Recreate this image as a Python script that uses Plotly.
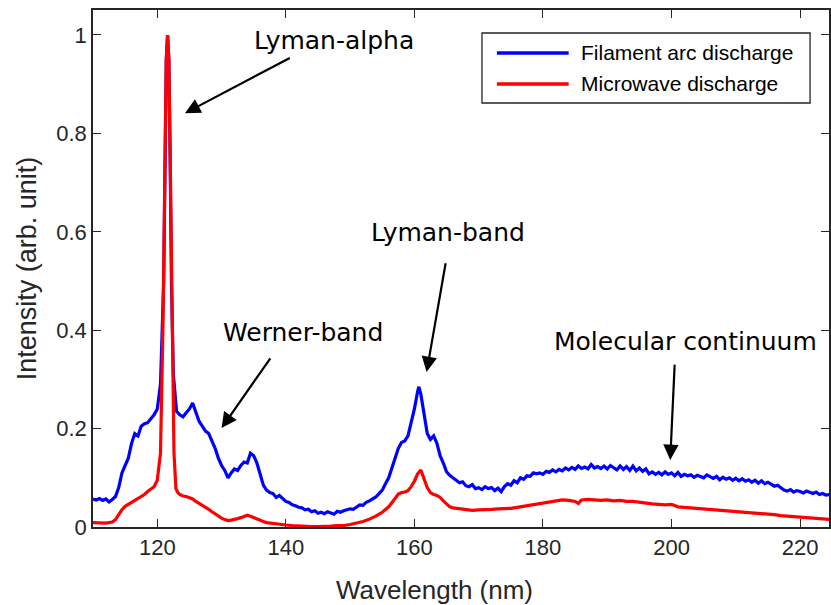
import plotly.graph_objects as go

# ---------------- data ----------------
wl_blue = [110, 110.5, 111, 111.5, 112, 112.5, 113, 113.5, 114, 114.5, 115, 115.5, 116, 116.5, 117, 117.5,
           118, 118.5, 119, 119.5, 120, 120.5, 121, 121.2, 121.4, 121.6, 121.8, 122.0, 122.2, 122.5, 123, 123.5, 124, 124.5,
           125, 125.5, 126, 126.5, 127, 127.5, 128, 128.5, 129, 129.5, 130, 130.5, 131, 131.5, 132, 132.5,
           133, 133.5, 134, 134.5, 135, 135.5, 136, 136.5, 137, 137.5, 138, 138.5, 139, 139.5, 140, 140.5,
           141, 141.5, 142, 142.5, 143, 143.5, 144, 144.5, 145, 145.5, 146, 146.5, 147, 147.5, 148, 148.5,
           149, 149.5, 150, 150.5, 151, 151.5, 152, 152.5, 153, 153.5, 154, 154.5, 155, 155.5, 156, 156.5,
           157, 157.5, 158, 158.5, 159, 159.5, 160, 160.5, 160.7, 161, 161.5, 162, 162.5, 163, 163.5, 164,
           164.5, 165, 165.5, 166, 166.5, 167, 167.5, 168, 168.5, 169, 169.5, 170, 170.5, 171, 171.5, 172,
           172.5, 173, 173.5, 174, 174.5, 175, 175.5, 176, 176.5, 177, 177.5, 178, 178.5, 179, 179.5, 180,
           180.5, 181, 181.5, 182, 182.5, 183, 183.5, 184, 184.5, 185, 185.5, 186, 186.5, 187, 187.5, 188,
           188.5, 189, 189.5, 190, 190.5, 191, 191.5, 192, 192.5, 193, 193.5, 194, 194.5, 195, 195.5, 196,
           196.5, 197, 197.5, 198, 198.5, 199, 199.5, 200, 200.5, 201, 201.5, 202, 202.5, 203, 203.5, 204,
           204.5, 205, 205.5, 206, 206.5, 207, 207.5, 208, 208.5, 209, 209.5, 210, 210.5, 211, 211.5, 212,
           212.5, 213, 213.5, 214, 214.5, 215, 215.5, 216, 216.5, 217, 217.5, 218, 218.5, 219, 219.5, 220,
           220.5, 221, 221.5, 222, 222.5, 223, 223.5, 224, 224.5, 225]
filament = [0.057, 0.055, 0.058, 0.054, 0.057, 0.051, 0.056, 0.062, 0.080, 0.110, 0.125, 0.140, 0.170, 0.190, 0.185, 0.205,
            0.210, 0.212, 0.220, 0.228, 0.240, 0.290, 0.500, 0.750, 0.950, 1.000, 0.950, 0.750, 0.500, 0.310, 0.235, 0.228, 0.224, 0.232,
            0.240, 0.252, 0.235, 0.215, 0.205, 0.195, 0.190, 0.175, 0.160, 0.140, 0.125, 0.115, 0.100, 0.110, 0.118, 0.115,
            0.125, 0.132, 0.130, 0.150, 0.145, 0.130, 0.110, 0.085, 0.075, 0.070, 0.068, 0.060, 0.064, 0.057, 0.052, 0.050,
            0.045, 0.043, 0.040, 0.039, 0.035, 0.036, 0.031, 0.033, 0.028, 0.030, 0.027, 0.031, 0.029, 0.026, 0.032, 0.030,
            0.033, 0.035, 0.037, 0.036, 0.041, 0.045, 0.044, 0.050, 0.053, 0.057, 0.061, 0.068, 0.075, 0.088, 0.100, 0.120,
            0.140, 0.160, 0.172, 0.175, 0.185, 0.210, 0.240, 0.275, 0.285, 0.270, 0.230, 0.190, 0.178, 0.185, 0.170, 0.145,
            0.130, 0.112, 0.105, 0.100, 0.096, 0.090, 0.092, 0.084, 0.082, 0.086, 0.078, 0.080, 0.076, 0.082, 0.078, 0.080,
            0.074, 0.079, 0.072, 0.082, 0.088, 0.085, 0.094, 0.090, 0.100, 0.097, 0.104, 0.103, 0.110, 0.108, 0.110, 0.107,
            0.113, 0.111, 0.116, 0.112, 0.117, 0.114, 0.120, 0.116, 0.121, 0.117, 0.124, 0.119, 0.122, 0.118, 0.127, 0.120,
            0.123, 0.119, 0.124, 0.118, 0.125, 0.120, 0.116, 0.124, 0.117, 0.123, 0.115, 0.124, 0.114, 0.120, 0.113, 0.118,
            0.108, 0.112, 0.107, 0.111, 0.106, 0.112, 0.107, 0.110, 0.104, 0.111, 0.103, 0.107, 0.104, 0.106, 0.101, 0.105,
            0.102, 0.100, 0.106, 0.102, 0.099, 0.103, 0.096, 0.101, 0.097, 0.100, 0.095, 0.099, 0.094, 0.098, 0.093, 0.096,
            0.091, 0.095, 0.089, 0.094, 0.088, 0.091, 0.087, 0.083, 0.085, 0.079, 0.075, 0.073, 0.076, 0.071, 0.074, 0.072,
            0.069, 0.073, 0.070, 0.068, 0.071, 0.066, 0.068, 0.065, 0.066, 0.064]

wl_red = [110, 111, 112, 113, 113.5, 114, 114.5, 115, 115.5, 116, 116.5, 117, 117.5, 118, 118.5, 119, 119.5, 120,
          120.5, 120.9, 121.2, 121.4, 121.6, 121.8, 122.0, 122.3, 122.6, 122.9, 123.2, 123.5, 124, 124.5, 125, 125.5, 126, 126.5,
          127, 127.5, 128, 128.5, 129, 129.5, 130, 130.5, 131, 131.5, 132, 132.5, 133, 133.5, 134, 134.5, 135,
          135.5, 136, 136.5, 137, 138, 139, 140, 141, 142, 143, 144, 145, 146, 147, 148, 149, 150, 151, 152, 153,
          154, 155, 156, 157, 157.5, 158, 158.5, 159, 159.5, 160, 160.5, 161, 161.5, 162, 162.5, 163, 163.5, 164,
          164.5, 165, 165.5, 166, 167, 168, 169, 170, 171, 172, 173, 174, 175, 176, 177, 178, 179, 180, 181, 182,
          183, 184, 185, 185.5, 186, 187, 188, 189, 190, 191, 192, 193, 194, 195, 196, 197, 198, 199, 200, 200.5,
          201, 202, 203, 204, 205, 206, 207, 208, 209, 210, 211, 212, 213, 214, 215, 216, 217, 218, 219, 220, 221,
          222, 223, 224, 225]
microwave = [0.009, 0.009, 0.008, 0.010, 0.015, 0.025, 0.035, 0.042, 0.046, 0.050, 0.054, 0.058, 0.062, 0.066, 0.072, 0.077, 0.082, 0.095,
             0.150, 0.420, 0.760, 0.950, 1.000, 0.950, 0.760, 0.420, 0.150, 0.078, 0.070, 0.066, 0.063, 0.062, 0.060, 0.057, 0.052, 0.048,
             0.045, 0.040, 0.036, 0.031, 0.026, 0.021, 0.018, 0.015, 0.013, 0.014, 0.015, 0.017, 0.019, 0.021, 0.024, 0.022, 0.019,
             0.016, 0.013, 0.011, 0.009, 0.007, 0.006, 0.004, 0.003, 0.002, 0.001, 0.001, 0.001, 0.001, 0.002, 0.003, 0.003, 0.005, 0.008, 0.011, 0.016,
             0.022, 0.030, 0.041, 0.058, 0.067, 0.070, 0.071, 0.074, 0.082, 0.093, 0.108, 0.116, 0.098, 0.080, 0.070, 0.066, 0.064, 0.060,
             0.053, 0.046, 0.041, 0.039, 0.037, 0.035, 0.034, 0.035, 0.035, 0.036, 0.037, 0.037, 0.038, 0.040, 0.042, 0.044, 0.046, 0.048, 0.051, 0.053,
             0.055, 0.054, 0.052, 0.048, 0.055, 0.056, 0.055, 0.054, 0.055, 0.053, 0.054, 0.052, 0.052, 0.050, 0.048, 0.047, 0.046, 0.045, 0.046, 0.043,
             0.041, 0.040, 0.039, 0.038, 0.037, 0.036, 0.035, 0.034, 0.033, 0.032, 0.031, 0.030, 0.029, 0.027, 0.026, 0.025, 0.023, 0.022, 0.021, 0.020, 0.018,
             0.017, 0.016, 0.016, 0.015]

series_names = ["Filament arc discharge", "Microwave discharge"]
x_ticks = [120, 140, 160, 180, 200, 220]
y_ticks = [0, 0.2, 0.4, 0.6, 0.8, 1]
y_tick_labels = ["0", "0.2", "0.4", "0.6", "0.8", "1"]
x_title = "Wavelength (nm)"
y_title = "Intensity (arb. unit)"

# annotations: label, text position (nm, intensity), arrow tail, arrow head
labels = ["Lyman-alpha", "Werner-band", "Lyman-band", "Molecular continuum"]
label_x = [147.5, 142.6, 165.3, 202.1]
label_y = [0.988, 0.396, 0.598, 0.378]
tail_x = [140.85, 137.75, 164.9, 200.5]
tail_y = [0.955, 0.346, 0.539, 0.333]
head_x = [124.3, 130.0, 161.9, 199.8]
head_y = [0.841, 0.201, 0.315, 0.136]

# ---------------- figure ----------------
BLUE = "#0000ff"
RED = "#ff0000"
AXIS = "#262626"

fig = go.Figure()
fig.add_trace(go.Scatter(x=wl_blue, y=filament, mode="lines", name=series_names[0],
                         line=dict(color=BLUE, width=3.2), showlegend=False))
fig.add_trace(go.Scatter(x=wl_red, y=microwave, mode="lines", name=series_names[1],
                         line=dict(color=RED, width=3.2), showlegend=False))

annotations = []
for lab, lx, ly in zip(labels, label_x, label_y):
    annotations.append(dict(x=lx, y=ly, xref="x", yref="y", text=lab, showarrow=False,
                            font=dict(family="DejaVu Sans", size=25, color="black"),
                            xanchor="center", yanchor="middle"))
for tx, ty, hx, hy in zip(tail_x, tail_y, head_x, head_y):
    annotations.append(dict(x=hx, y=hy, ax=tx, ay=ty, xref="x", yref="y", axref="x", ayref="y",
                            text="", showarrow=True, arrowhead=2, arrowsize=1.4, arrowwidth=2.2,
                            arrowcolor="black", standoff=0, startstandoff=0))

# x-axis title placed as in the reference (slightly left of the plot centre)
sans = "Liberation Sans, Arial, sans-serif"
annotations.append(dict(x=0.4634, y=-0.122, xref="paper", yref="paper", text=x_title, showarrow=False,
                        xanchor="center", yanchor="middle", font=dict(family=sans, size=26, color=AXIS)))

# custom legend (MATLAB style, long line samples)
leg_font = dict(family=sans, size=21, color="black")
annotations.append(dict(x=0.660, y=0.917, xref="paper", yref="paper", text=series_names[0],
                        showarrow=False, xanchor="left", yanchor="middle", font=leg_font))
annotations.append(dict(x=0.660, y=0.857, xref="paper", yref="paper", text=series_names[1],
                        showarrow=False, xanchor="left", yanchor="middle", font=leg_font))
shapes = [
    dict(type="rect", xref="paper", yref="paper", x0=0.5285, x1=0.9743, y0=0.8201, y1=0.9555,
         line=dict(color=AXIS, width=1.3), fillcolor="white", layer="above"),
    dict(type="line", xref="paper", yref="paper", x0=0.5488, x1=0.6463, y0=0.917, y1=0.917,
         line=dict(color=BLUE, width=3.5), layer="above"),
    dict(type="line", xref="paper", yref="paper", x0=0.5488, x1=0.6463, y0=0.857, y1=0.857,
         line=dict(color=RED, width=3.5), layer="above"),
]

tick_font = dict(family=sans, size=22, color=AXIS)
title_font = dict(family=sans, size=27, color=AXIS)

fig.update_layout(
    width=831, height=605,
    margin=dict(l=93, r=0, t=10, b=78),
    paper_bgcolor="white", plot_bgcolor="white",
    annotations=annotations, shapes=shapes,
    showlegend=False,
)
fig.update_xaxes(range=[110, 224.5], tickvals=x_ticks, ticks="inside", ticklen=8, tickwidth=1.3,
                 tickcolor=AXIS, showline=True, linecolor=AXIS, linewidth=1.5, mirror="ticks",
                 showgrid=False, zeroline=False, tickfont=tick_font)
fig.update_yaxes(range=[0, 1.0508], tickvals=y_ticks, ticktext=y_tick_labels, ticks="inside", ticklen=8,
                 tickwidth=1.3, tickcolor=AXIS, showline=True, linecolor=AXIS, linewidth=1.5, mirror="ticks",
                 showgrid=False, zeroline=False, tickfont=tick_font,
                 title=dict(text=y_title, font=title_font, standoff=12))

fig.write_html("out.html")
